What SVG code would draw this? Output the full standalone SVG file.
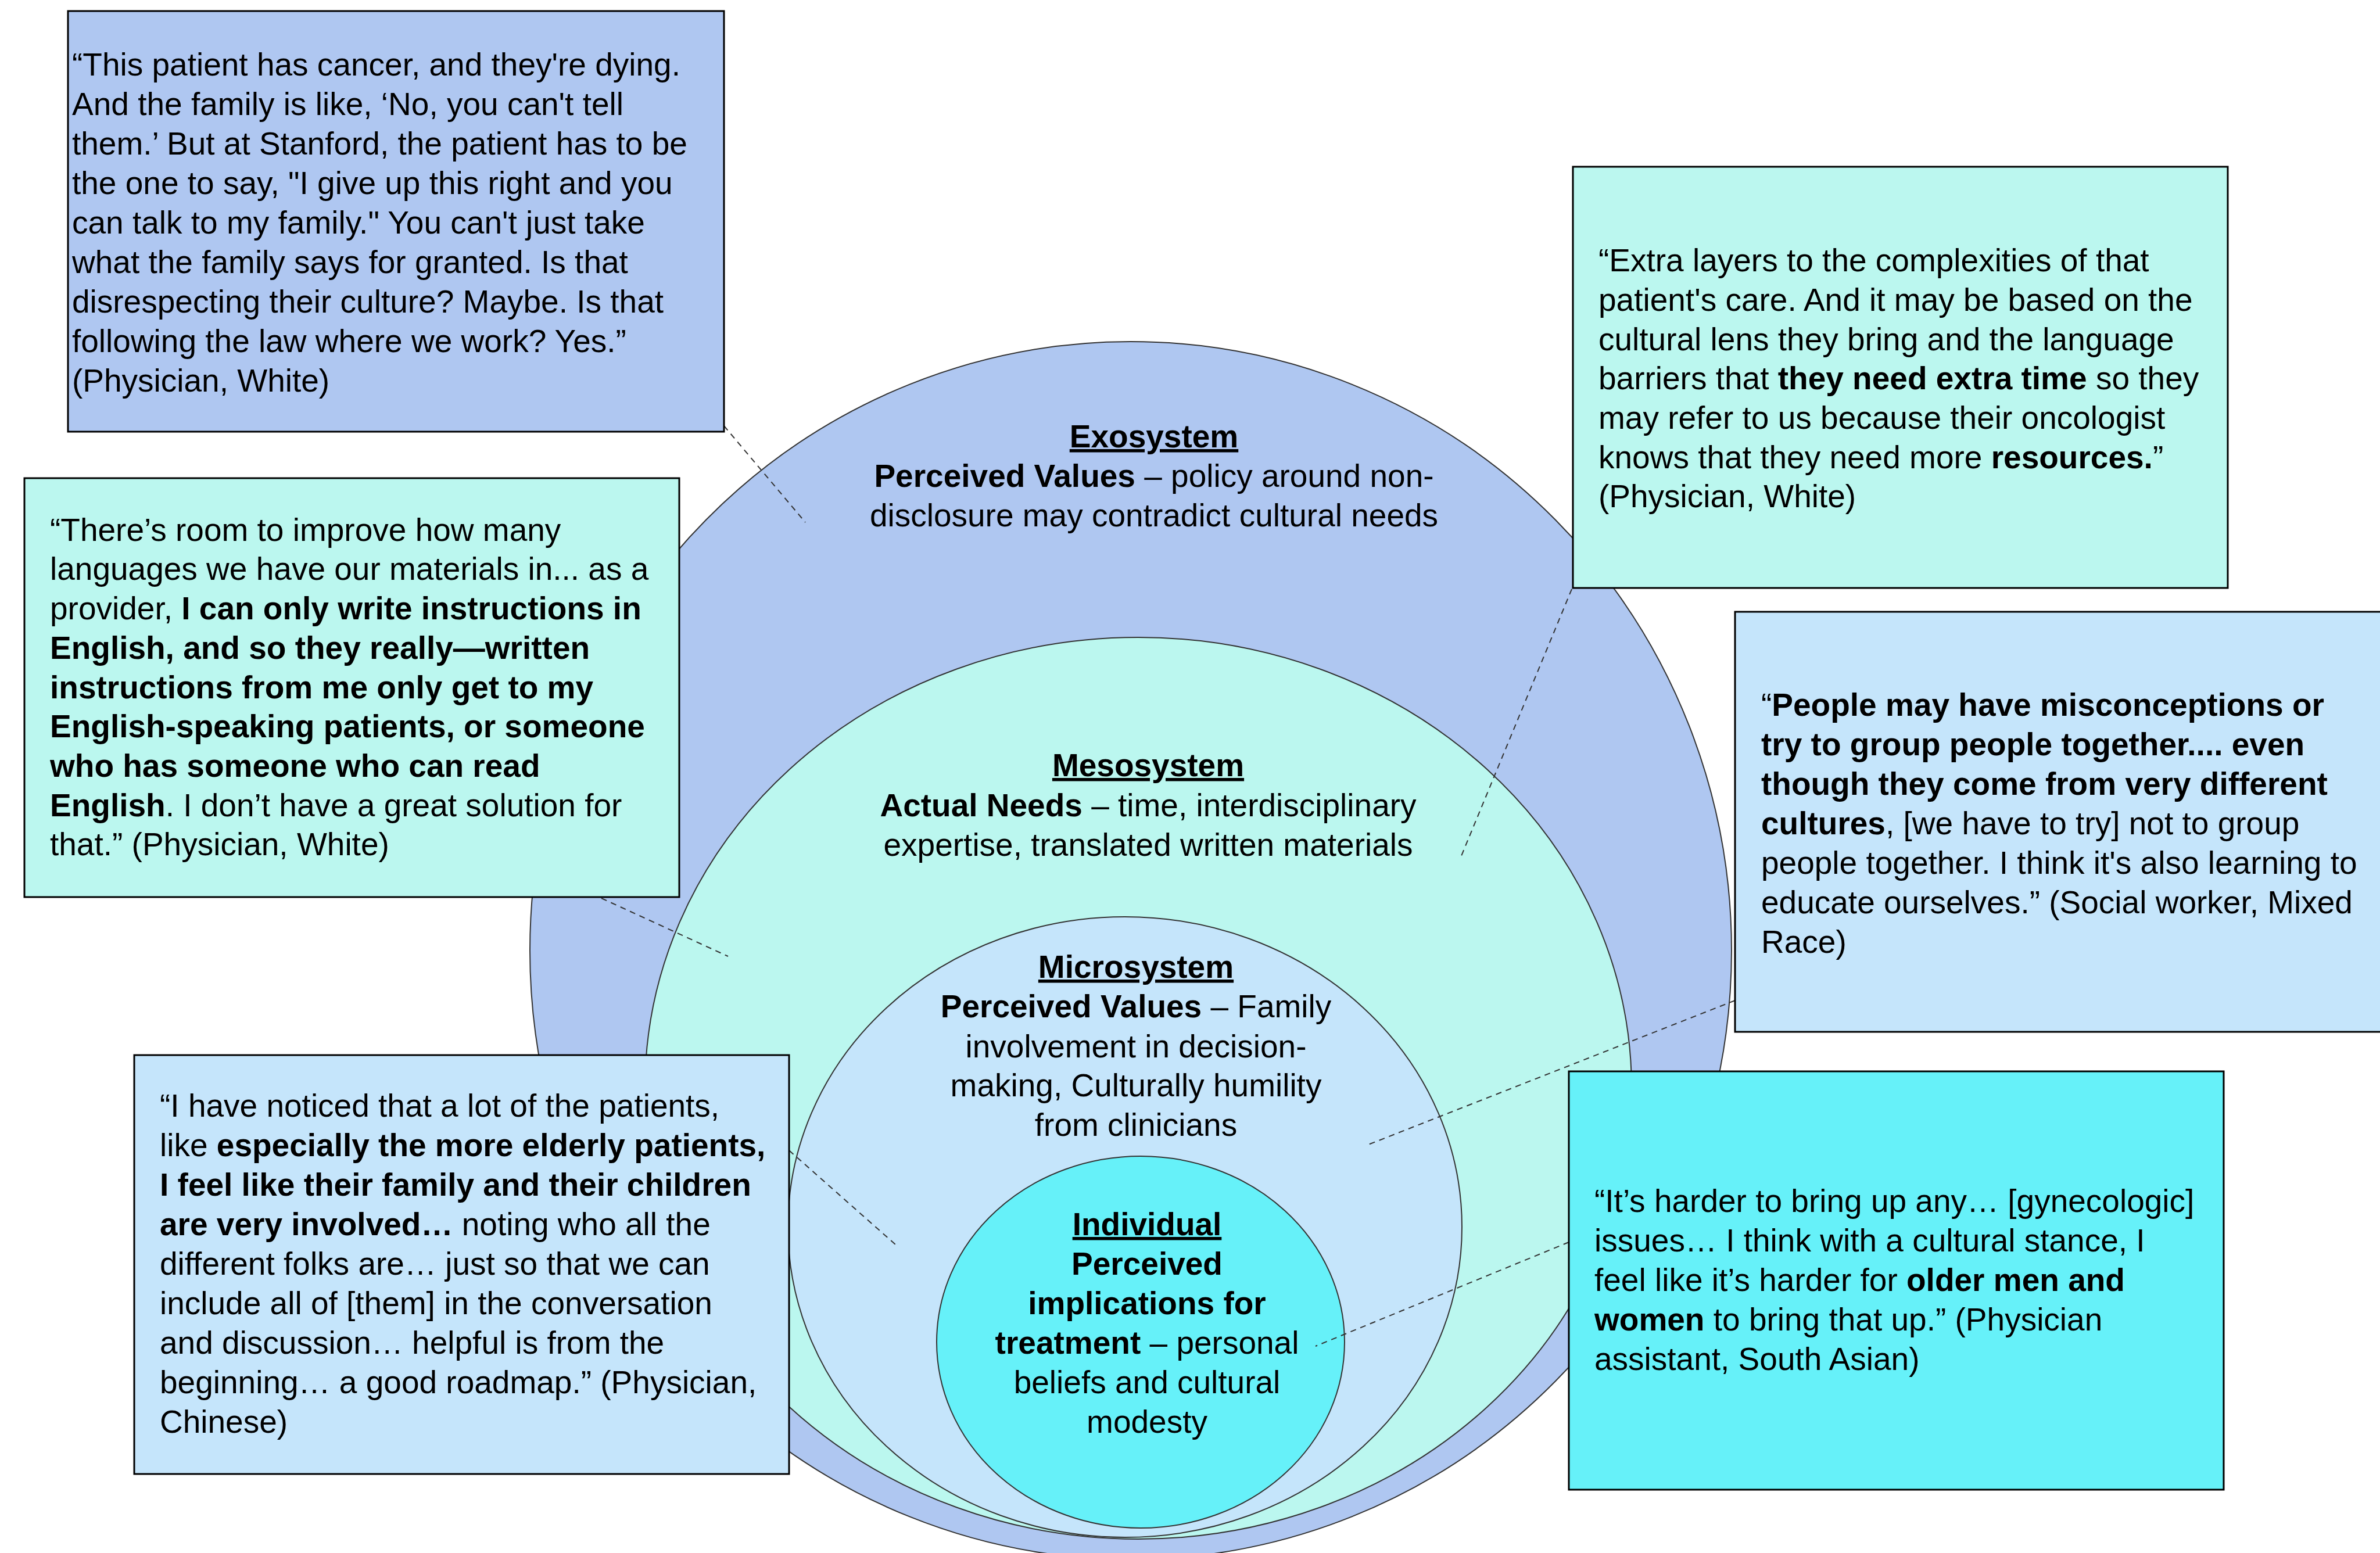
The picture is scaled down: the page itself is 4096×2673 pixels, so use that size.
<svg xmlns="http://www.w3.org/2000/svg" width="4096" height="2673" viewBox="0 0 4096 2673">
  <style>
    .ring { stroke: #333333; stroke-width: 2; }
    .box { stroke: #000000; stroke-width: 3; }
    .exo { fill: #AFC7F1; }
    .meso { fill: #BBF7EF; }
    .micro { fill: #C5E5FB; }
    .indiv { fill: #66F1F9; }
    .conn { fill: none; stroke: #333333; stroke-width: 2; stroke-dasharray: 10 8; }
    text { font-family: "Liberation Sans", Arial, Helvetica, sans-serif; font-size: 55px; fill: #000000; }
    .c { text-anchor: middle; }
    .b { font-weight: bold; }
    .u { font-weight: bold; text-decoration: underline; }
  </style>
  <rect width="4096" height="2673" fill="#FFFFFF"/>

  <!-- nested system ellipses, outermost first -->
  <g id="exosystem">
    <ellipse class="ring exo" cx="1946" cy="1636" rx="1034" ry="1048"/>
    <text class="c u" x="1986" y="770">Exosystem</text>
    <text class="c" x="1986" y="838"><tspan class="b">Perceived Values</tspan> – policy around non-</text>
    <text class="c" x="1986" y="906">disclosure may contradict cultural needs</text>
  </g>
  <g id="mesosystem">
    <ellipse class="ring meso" cx="1959" cy="1873" rx="849" ry="776"/>
    <text class="c u" x="1976" y="1336">Mesosystem</text>
    <text class="c" x="1976" y="1405"><tspan class="b">Actual Needs</tspan> – time, interdisciplinary</text>
    <text class="c" x="1976" y="1473">expertise, translated written materials</text>
  </g>
  <g id="microsystem">
    <ellipse class="ring micro" cx="1936" cy="2112" rx="580" ry="534"/>
    <text class="c u" x="1955" y="1683">Microsystem</text>
    <text class="c" x="1955" y="1751"><tspan class="b">Perceived Values</tspan> – Family</text>
    <text class="c" x="1955" y="1820">involvement in decision-</text>
    <text class="c" x="1955" y="1887">making, Culturally humility</text>
    <text class="c" x="1955" y="1955">from clinicians</text>
  </g>
  <g id="individual">
    <ellipse class="ring indiv" cx="1963" cy="2310" rx="351" ry="320"/>
    <text class="c u" x="1974" y="2126">Individual</text>
    <text class="c b" x="1974" y="2194">Perceived</text>
    <text class="c b" x="1974" y="2262">implications for</text>
    <text class="c" x="1974" y="2330"><tspan class="b">treatment</tspan> – personal</text>
    <text class="c" x="1974" y="2398">beliefs and cultural</text>
    <text class="c" x="1974" y="2466">modesty</text>
  </g>

  <!-- dashed leader lines from quotes to system levels -->
  <g id="connectors">
    <line class="conn" x1="1246" y1="733" x2="1386" y2="899"/>
    <line class="conn" x1="2705" y1="1014" x2="2515" y2="1473"/>
    <line class="conn" x1="1035" y1="1546" x2="1253" y2="1646"/>
    <line class="conn" x1="2986" y1="1722" x2="2350" y2="1972"/>
    <line class="conn" x1="1358" y1="1980" x2="1541" y2="2142"/>
    <line class="conn" x1="2700" y1="2138" x2="2264" y2="2317"/>
  </g>

  <!-- quote boxes -->
  <g id="quote-nondisclosure">
    <rect class="box exo" x="117" y="19" width="1129" height="724"/>
    <text x="124" y="130">“This patient has cancer, and they're dying.</text>
    <text x="124" y="198">And the family is like, ‘No, you can't tell</text>
    <text x="124" y="266">them.’ But at Stanford, the patient has to be</text>
    <text x="124" y="334">the one to say, "I give up this right and you</text>
    <text x="124" y="402">can talk to my family." You can't just take</text>
    <text x="124" y="470">what the family says for granted. Is that</text>
    <text x="124" y="538">disrespecting their culture? Maybe. Is that</text>
    <text x="124" y="606">following the law where we work? Yes.”</text>
    <text x="124" y="674">(Physician, White)</text>
  </g>

  <g id="quote-extra-time">
    <rect class="box meso" x="2707" y="287" width="1127" height="725"/>
    <text x="2751" y="467">“Extra layers to the complexities of that</text>
    <text x="2751" y="535">patient's care. And it may be based on the</text>
    <text x="2751" y="603">cultural lens they bring and the language</text>
    <text x="2751" y="670">barriers that <tspan class="b">they need extra time</tspan> so they</text>
    <text x="2751" y="738">may refer to us because their oncologist</text>
    <text x="2751" y="806">knows that they need more <tspan class="b">resources.</tspan>”</text>
    <text x="2751" y="873">(Physician, White)</text>
  </g>

  <g id="quote-materials">
    <rect class="box meso" x="42" y="823" width="1127" height="721"/>
    <text x="86" y="931">“There’s room to improve how many</text>
    <text x="86" y="998">languages we have our materials in... as a</text>
    <text x="86" y="1066">provider, <tspan class="b">I can only write instructions in</tspan></text>
    <text x="86" y="1134" class="b">English, and so they really—written</text>
    <text x="86" y="1202" class="b">instructions from me only get to my</text>
    <text x="86" y="1269" class="b">English-speaking patients, or someone</text>
    <text x="86" y="1337" class="b">who has someone who can read</text>
    <text x="86" y="1405"><tspan class="b">English</tspan>. I don’t have a great solution for</text>
    <text x="86" y="1472">that.” (Physician, White)</text>
  </g>

  <g id="quote-grouping">
    <rect class="box micro" x="2986" y="1053" width="1150" height="723"/>
    <text x="3031" y="1232">“<tspan class="b">People may have misconceptions or</tspan></text>
    <text x="3031" y="1300" class="b">try to group people together.... even</text>
    <text x="3031" y="1368" class="b">though they come from very different</text>
    <text x="3031" y="1436"><tspan class="b">cultures</tspan>, [we have to try] not to group</text>
    <text x="3031" y="1504">people together. I think it's also learning to</text>
    <text x="3031" y="1572">educate ourselves.” (Social worker, Mixed</text>
    <text x="3031" y="1640">Race)</text>
  </g>

  <g id="quote-family">
    <rect class="box micro" x="231" y="1816" width="1127" height="721"/>
    <text x="275" y="1922">“I have noticed that a lot of the patients,</text>
    <text x="275" y="1990">like <tspan class="b">especially the more elderly patients,</tspan></text>
    <text x="275" y="2058" class="b">I feel like their family and their children</text>
    <text x="275" y="2126"><tspan class="b">are very involved…</tspan> noting who all the</text>
    <text x="275" y="2194">different folks are… just so that we can</text>
    <text x="275" y="2262">include all of [them] in the conversation</text>
    <text x="275" y="2330">and discussion… helpful is from the</text>
    <text x="275" y="2398">beginning… a good roadmap.” (Physician,</text>
    <text x="275" y="2466">Chinese)</text>
  </g>

  <g id="quote-modesty">
    <rect class="box indiv" x="2700" y="1844" width="1127" height="720"/>
    <text x="2744" y="2086">“It’s harder to bring up any… [gynecologic]</text>
    <text x="2744" y="2154">issues… I think with a cultural stance, I</text>
    <text x="2744" y="2222">feel like it’s harder for <tspan class="b">older men and</tspan></text>
    <text x="2744" y="2290"><tspan class="b">women</tspan> to bring that up.” (Physician</text>
    <text x="2744" y="2358">assistant, South Asian)</text>
  </g>
</svg>
